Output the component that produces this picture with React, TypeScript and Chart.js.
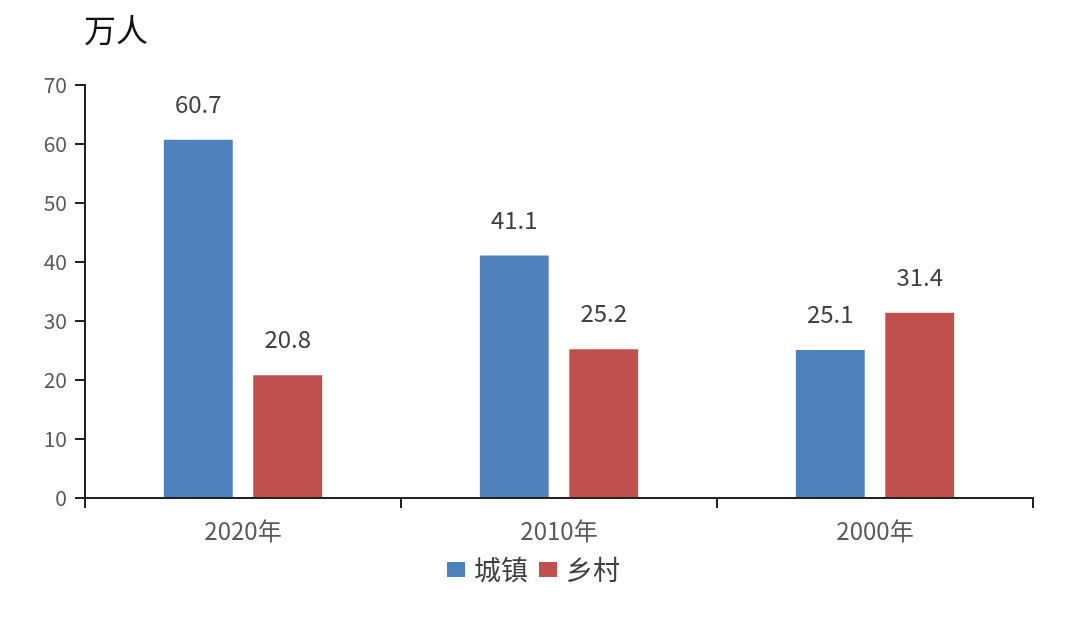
import React, { useEffect, useRef } from "react";
import { Chart, registerables } from "chart.js";

Chart.register(...registerables);

const categories = ["2020年", "2010年", "2000年"];
const urbanValues = [60.7, 41.1, 25.1];
const ruralValues = [20.8, 25.2, 31.4];
const seriesNames = ["城镇", "乡村"];
const seriesColors = ["#4F81BD", "#C0504D"];
const unitLabel = "万人";

const FONT = '"Noto Sans CJK SC", "Open Sans", sans-serif';

const labelsPlugin = {
  id: "extras",
  afterDatasetsDraw(chart: any) {
    const ctx = chart.ctx;
    ctx.save();
    ctx.fillStyle = "#404040";
    ctx.font = `24px ${FONT}`;
    ctx.textAlign = "center";
    ctx.textBaseline = "alphabetic";
    chart.data.datasets.forEach((ds: any, di: number) => {
      const meta = chart.getDatasetMeta(di);
      meta.data.forEach((bar: any, i: number) => {
        ctx.fillText(ds.data[i].toFixed(1), bar.x, bar.y - 27);
      });
    });
    // unit
    ctx.fillStyle = "#111";
    ctx.font = `32px ${FONT}`;
    ctx.textAlign = "left";
    ctx.textBaseline = "middle";
    ctx.fillText(unitLabel, 84, 30);
    // legend
    ctx.font = `27px ${FONT}`;
    let x = 447;
    const y = 570;
    seriesNames.forEach((name, i) => {
      ctx.fillStyle = seriesColors[i];
      ctx.fillRect(x, y - 8, 18, 15);
      ctx.fillStyle = "#404040";
      ctx.fillText(name, x + 27, y);
      x += 92;
    });
    ctx.restore();
  },
};

export default function App() {
  const ref = useRef<HTMLCanvasElement>(null);
  useEffect(() => {
    const chart = new Chart(ref.current!, {
      type: "bar",
      data: {
        labels: categories,
        datasets: [
          { label: seriesNames[0], data: urbanValues, backgroundColor: seriesColors[0], categoryPercentage: 0.566, barPercentage: 0.77 },
          { label: seriesNames[1], data: ruralValues, backgroundColor: seriesColors[1], categoryPercentage: 0.566, barPercentage: 0.77 },
        ],
      },
      options: {
        responsive: false,
        animation: false,
        layout: { padding: { top: 85, right: 47, bottom: 0, left: 0 } },
        plugins: { legend: { display: false }, tooltip: { enabled: false }, title: { display: false } },
        scales: {
          x: {
            grid: { display: true, drawOnChartArea: false, drawTicks: true, tickLength: 10, color: "#222", lineWidth: 2, offset: true },
            border: { display: true, color: "#222", width: 2 },
            ticks: { color: "#595959", font: { size: 24, family: FONT }, padding: 8 },
            afterFit: (s: any) => { s.height = 131; },
          },
          y: {
            min: 0,
            max: 70,
            grid: { display: true, drawOnChartArea: false, drawTicks: true, tickLength: 10, color: "#222", lineWidth: 2 },
            border: { display: true, color: "#222", width: 2 },
            ticks: { stepSize: 10, color: "#595959", font: { size: 21, family: FONT }, padding: 8 },
            afterFit: (s: any) => { s.width = 85; },
          },
        },
      },
      plugins: [labelsPlugin],
    });
    return () => chart.destroy();
  }, []);
  return (
    <div style={{ position: "fixed", left: 0, top: 0, width: 1080, height: 629, background: "#fff" }}>
      <canvas ref={ref} width={1080} height={629} style={{ width: 1080, height: 629 }} />
    </div>
  );
}
